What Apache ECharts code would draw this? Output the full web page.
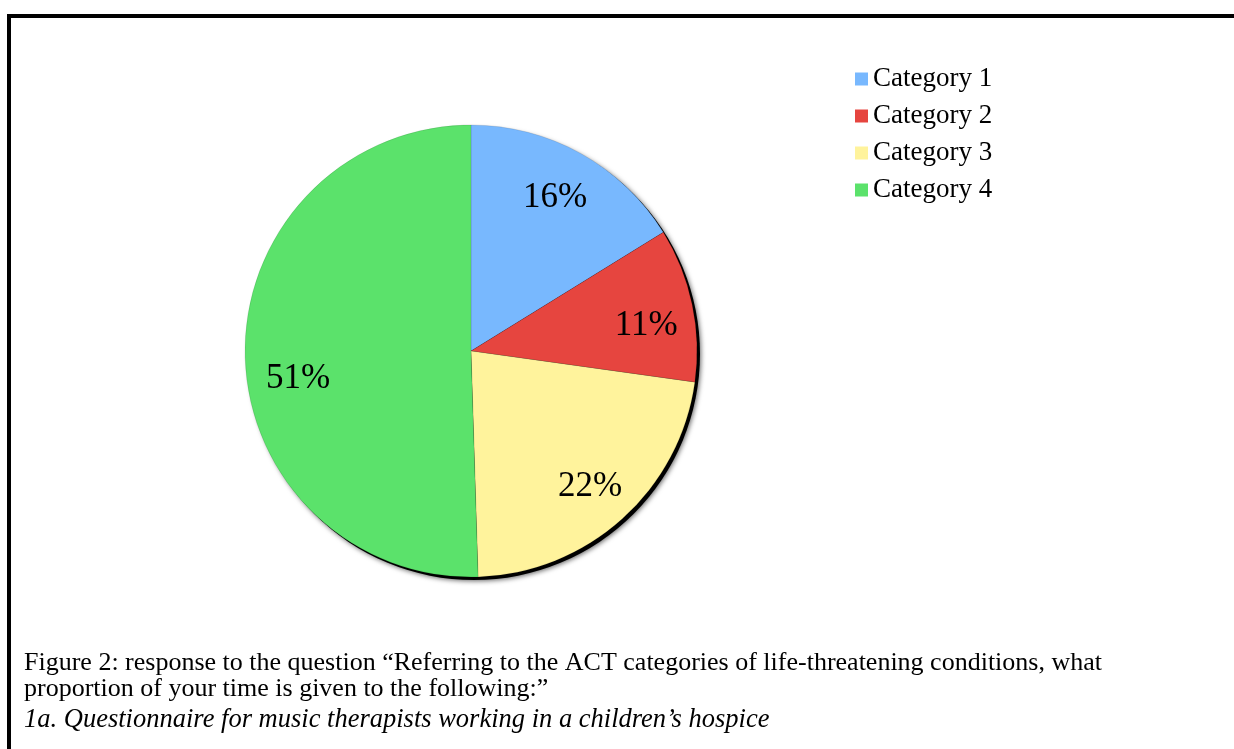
<!DOCTYPE html>
<html>
<head>
<meta charset="utf-8">
<script src="https://cdn.jsdelivr.net/npm/echarts@6/dist/echarts.min.js"></script>
<style>
html,body{margin:0;padding:0;background:#fff;}
#c{width:1234px;height:749px;}
</style>
</head>
<body>
<div id="c"></div>
<script>
const categories = ['Category 1', 'Category 2', 'Category 3', 'Category 4'];
const values = [16.2, 11.0, 22.3, 50.5];
const colors = ['#78B8FE', '#E6453F', '#FFF39C', '#5BE26B'];
const captionLines = [
  'Figure 2: response to the question \u201cReferring to the ACT categories of life-threatening conditions, what',
  'proportion of your time is given to the following:\u201d'
];
const captionItalic = '1a. Questionnaire for music therapists working in a children\u2019s hospice';

const FONT = "'Liberation Serif', 'Times New Roman', serif";
const chart = echarts.init(document.getElementById('c'), null, {renderer: 'canvas'});

// label nudges (styling only)
const labelNudge = [[-4, 5], [-2, 12], [-2, 1], [8, 25]];

const pieData = categories.map((n, i) => ({name: n, value: values[i], itemStyle: {color: colors[i]}}));
const labelData = categories.map((n, i) => ({name: n, value: values[i], label: {offset: labelNudge[i]}}));

const capStyle = {fontFamily: FONT, fontSize: 26, fontWeight: 'normal', color: '#000'};

chart.setOption({
  animation: false,
  backgroundColor: '#fff',
  title: [
    {text: captionLines[0], left: 24, top: 650, padding: 0, textStyle: capStyle},
    {text: captionLines[1], left: 24, top: 676, padding: 0, textStyle: capStyle},
    {text: captionItalic, left: 24, top: 707, padding: 0, textStyle: Object.assign({}, capStyle, {fontStyle: 'italic', fontSize: 26.5})}
  ],
  legend: {
    orient: 'vertical',
    left: 850,
    top: 59,
    padding: 5,
    data: categories,
    icon: 'rect',
    itemWidth: 13,
    itemHeight: 13,
    itemGap: 7,
    selectedMode: false,
    itemStyle: {borderWidth: 0},
    textStyle: {fontFamily: FONT, fontSize: 27, color: '#000', lineHeight: 30}
  },
  graphic: [
    {type: 'line', shape: {x1: 9, y1: 16, x2: 1234, y2: 16}, style: {stroke: '#000', lineWidth: 4}},
    {type: 'line', shape: {x1: 9, y1: 14, x2: 9, y2: 749}, style: {stroke: '#000', lineWidth: 4}}
  ],
  series: [
    {
      type: 'pie', name: 'shadow', silent: true, z: 1,
      center: [474, 354], radius: [0, 226],
      label: {show: false}, labelLine: {show: false},
      itemStyle: {color: '#000', shadowColor: 'rgba(0,0,0,0.6)', shadowBlur: 5, shadowOffsetX: 1, shadowOffsetY: 1},
      data: [{name: '', value: 1}]
    },
    {
      type: 'pie', name: 'main', z: 2,
      center: [471, 351], radius: [0, 226],
      startAngle: 90, clockwise: true,
      label: {show: false}, labelLine: {show: false},
      itemStyle: {borderColor: 'rgba(0,0,0,0.2)', borderWidth: 0.5},
      data: pieData
    },
    {
      type: 'pie', name: 'labels', silent: true, z: 3,
      center: [471, 351], radius: [130, 226],
      startAngle: 90, clockwise: true,
      itemStyle: {color: 'rgba(0,0,0,0)', borderWidth: 0},
      label: {show: true, position: 'inside', formatter: p => Math.round(p.value) + '%', fontFamily: FONT, fontSize: 35, color: '#000'},
      labelLine: {show: false},
      data: labelData
    }
  ]
});
</script>
</body>
</html>
